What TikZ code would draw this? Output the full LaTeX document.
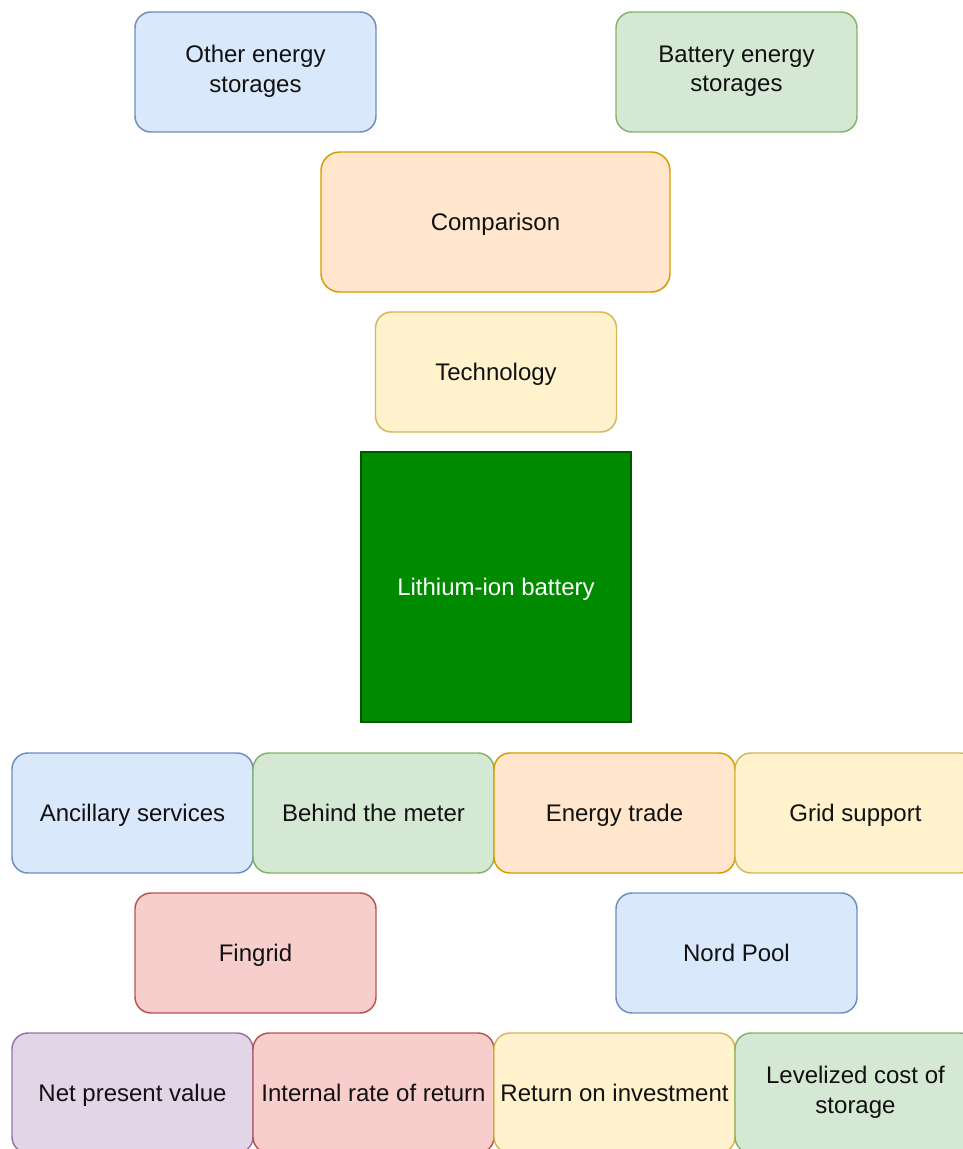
\documentclass[tikz,border=0pt]{standalone}
\usepackage{fontspec}
\setmainfont{Liberation Sans}
\definecolor{bluefill}{HTML}{DAE8FC}\definecolor{bluedraw}{HTML}{6C8EBF}
\definecolor{greenfill}{HTML}{D5E8D4}\definecolor{greendraw}{HTML}{82B366}
\definecolor{orangefill}{HTML}{FFE6CC}\definecolor{orangedraw}{HTML}{D79B00}
\definecolor{yellowfill}{HTML}{FFF2CC}\definecolor{yellowdraw}{HTML}{D6B656}
\definecolor{redfill}{HTML}{F8CECC}\definecolor{reddraw}{HTML}{B85450}
\definecolor{purplefill}{HTML}{E1D5E7}\definecolor{purpledraw}{HTML}{9673A6}
\definecolor{lifill}{HTML}{008A00}\definecolor{lidraw}{HTML}{005700}
\definecolor{txt}{HTML}{111111}
\newcommand\boxstrut{\rule[-4.6pt]{0pt}{22pt}}
\begin{document}
\begin{tikzpicture}[x=0.75pt,y=-0.75pt,
  box/.style={rounded corners=12pt,line width=1.1pt,inner sep=0pt,outer sep=0pt,
    minimum width=180.75pt,minimum height=90pt,align=center,
    font=\fontsize{18pt}{22pt}\selectfont,text=txt,
    execute at begin node=\boxstrut,execute at end node=\boxstrut},
  bluebox/.style={box,fill=bluefill,draw=bluedraw},
  greenbox/.style={box,fill=greenfill,draw=greendraw},
  orangebox/.style={box,fill=orangefill,draw=orangedraw},
  yellowbox/.style={box,fill=yellowfill,draw=yellowdraw},
  redbox/.style={box,fill=redfill,draw=reddraw},
  purplebox/.style={box,fill=purplefill,draw=purpledraw}]
\useasboundingbox (0,0) rectangle (963,1149);
\begin{scope}
\clip (0,0) rectangle (963,1149);
\node[bluebox] (oth) at (255.5,72) {Other energy\\storages};
\node[greenbox] (bat) at (736.5,72) {Battery energy\\storages};
\node[orangebox,minimum width=261.75pt,minimum height=105pt,rounded corners=14pt] (cmp) at (495.5,222) {Comparison};
\node[yellowbox] (tech) at (496,372) {Technology};
\node[box,rounded corners=0pt,fill=lifill,draw=lidraw,line width=0.8pt,text=white,
  minimum width=202.5pt,minimum height=202.5pt] (li) at (496,587) {Lithium-ion battery};
\node[bluebox] (anc) at (132.5,813) {Ancillary services};
\node[greenbox] (btm) at (373.5,813) {Behind the meter};
\node[orangebox] (trade) at (614.5,813) {Energy trade};
\node[yellowbox] (grid) at (855.5,813) {Grid support};
\node[redbox] (fin) at (255.5,953) {Fingrid};
\node[bluebox] (nord) at (736.5,953) {Nord Pool};
\node[purplebox] (npv) at (132.5,1093) {Net present value};
\node[redbox] (irr) at (373.5,1093) {Internal rate of return};
\node[yellowbox] (roi) at (614.5,1093) {Return on investment};
\node[greenbox] (lcos) at (855.5,1093) {Levelized cost of\\storage};
\end{scope}
\end{tikzpicture}
\end{document}
